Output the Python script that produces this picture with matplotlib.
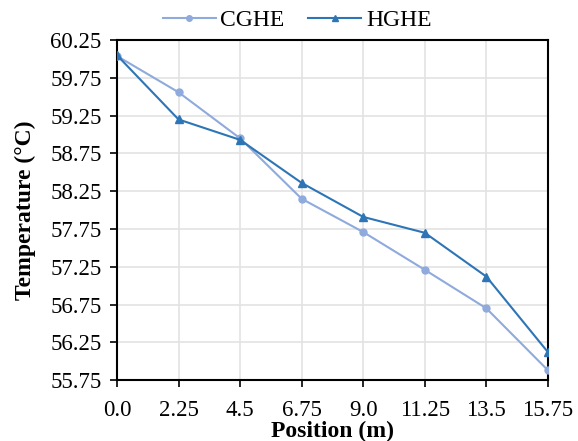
import numpy as np
import matplotlib.pyplot as plt

plt.rcParams['font.family'] = ['Liberation Serif', 'DejaVu Serif']

position = [0.0, 2.25, 4.5, 6.75, 9.0, 11.25, 13.5, 15.75]
cghe = [60.04, 59.56, 58.95, 58.15, 57.71, 57.21, 56.70, 55.88]
hghe = [60.05, 59.20, 58.93, 58.36, 57.91, 57.70, 57.12, 56.12]
xticklabels = ['0.0', '2.25', '4.5', '6.75', '9.0', '11.25', '13.5', '15.75']
yticks = [55.75, 56.25, 56.75, 57.25, 57.75, 58.25, 58.75, 59.25, 59.75, 60.25]

fig = plt.figure(figsize=(5.78, 4.41), dpi=100)
ax = fig.add_axes([0.2024, 0.138, 0.7456, 0.771])

ax.plot(position, cghe, color='#8FAADC', lw=1.5, marker='o', ms=5, label='CGHE', zorder=3)
ax.plot(position, hghe, color='#2E75B6', lw=1.5, marker='^', ms=6, label='HGHE', zorder=4)

ax.set_xlim(0, 15.75)
ax.set_ylim(55.75, 60.25)
ax.set_xticks(position)
ax.set_xticklabels(xticklabels)
ax.set_yticks(yticks)
ax.set_yticklabels(['%.2f' % v for v in yticks])
ax.tick_params(direction='out', length=5, width=1.2, labelsize=16.5, color='black')
ax.tick_params(axis='x', pad=9)
ax.tick_params(axis='y', pad=6)
ax.grid(True, color='#e3e3e3', lw=1.2)
ax.set_axisbelow(True)
for sp in ax.spines.values():
    sp.set_linewidth(1.5)
    sp.set_color('black')

ax.set_xlabel('Position (m)', fontsize=17, fontweight='bold', labelpad=0)
ax.set_ylabel('Temperature (°C)', fontsize=17, fontweight='bold', labelpad=10)

ax.legend(loc='center', bbox_to_anchor=(0.418, 1.059), ncol=2, frameon=False,
          fontsize=17, handlelength=2.25, columnspacing=1.0, borderaxespad=0,
          handletextpad=0.2, markerscale=0.8)

fig.savefig('out.png', dpi=100)
